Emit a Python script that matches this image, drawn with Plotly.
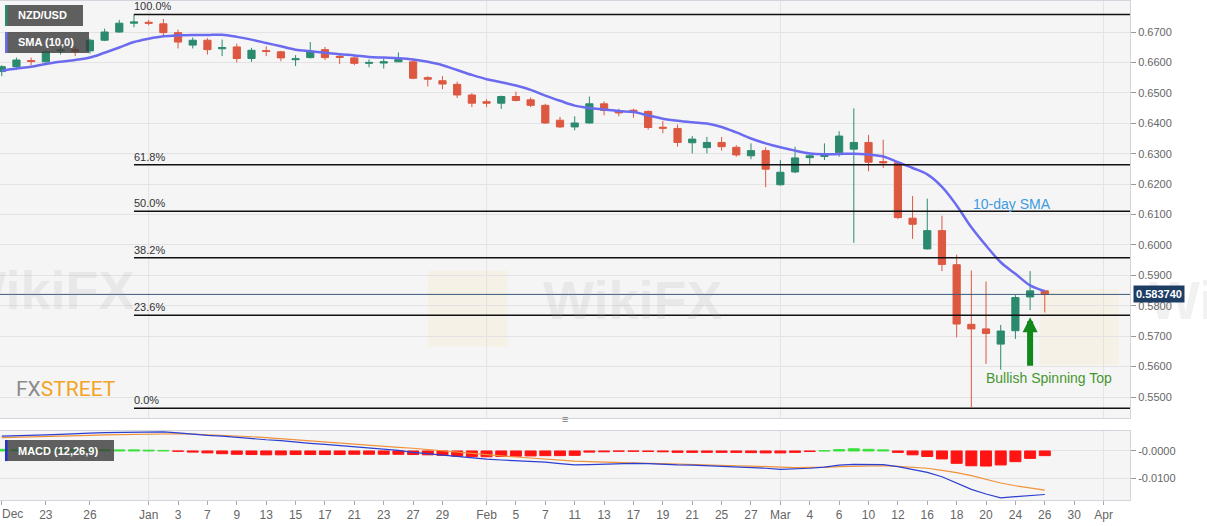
import pandas as pd
import plotly.graph_objects as go

# NZD/USD daily, 18 Dec 2019 - 26 Mar 2020 (weekdays only)
dates = pd.bdate_range("2019-12-18", "2020-03-26")
axis_days = pd.bdate_range("2019-12-18", "2020-04-03")

opens = [0.6570, 0.6586, 0.6606, 0.6602, 0.6638, 0.6642, 0.6638, 0.6673, 0.6700, 0.6729,
         0.6732, 0.6727, 0.6698, 0.6657, 0.6673, 0.6645, 0.6651, 0.6613, 0.6639, 0.6635,
         0.6609, 0.6616, 0.6642, 0.6620, 0.6615, 0.6597, 0.6598, 0.6602, 0.6602, 0.6550,
         0.6540, 0.6528, 0.6493,
         0.6471, 0.6466, 0.6488, 0.6477, 0.6459, 0.6410, 0.6388, 0.6401, 0.6464, 0.6442,
         0.6443, 0.6439, 0.6387, 0.6383, 0.6336, 0.6320, 0.6337, 0.6321, 0.6293, 0.6310,
         0.6198, 0.6240, 0.6287, 0.6291, 0.6303, 0.6315, 0.6337, 0.6274, 0.6270, 0.6088,
         0.5987, 0.6047, 0.5935, 0.5739, 0.5724, 0.5674, 0.5718, 0.5829, 0.5849]
highs = [0.6591, 0.6616, 0.6616, 0.6640, 0.6651, 0.6651, 0.6678, 0.6711, 0.6740, 0.6758,
         0.6740, 0.6743, 0.6708, 0.6682, 0.6680, 0.6675, 0.6662, 0.6648, 0.6653, 0.6638,
         0.6624, 0.6667, 0.6651, 0.6629, 0.6621, 0.6610, 0.6613, 0.6633, 0.6610, 0.6555,
         0.6555, 0.6537, 0.6499,
         0.6479, 0.6491, 0.6504, 0.6485, 0.6464, 0.6421, 0.6423, 0.6488, 0.6472, 0.6448,
         0.6448, 0.6442, 0.6408, 0.6396, 0.6358, 0.6355, 0.6355, 0.6328, 0.6334, 0.6321,
         0.6279, 0.6323, 0.6303, 0.6334, 0.6374, 0.6449, 0.6362, 0.6346, 0.6275, 0.6161,
         0.6152, 0.6096, 0.5968, 0.5916, 0.5880, 0.5737, 0.5835, 0.5914, 0.5851]
lows = [0.6555, 0.6575, 0.6591, 0.6599, 0.6626, 0.6621, 0.6629, 0.6670, 0.6698, 0.6716,
        0.6722, 0.6686, 0.6646, 0.6646, 0.6626, 0.6621, 0.6600, 0.6602, 0.6621, 0.6604,
        0.6588, 0.6613, 0.6608, 0.6595, 0.6591, 0.6584, 0.6580, 0.6601, 0.6545, 0.6521,
        0.6512, 0.6483, 0.6453,
        0.6453, 0.6447, 0.6472, 0.6453, 0.6398, 0.6385, 0.6377, 0.6399, 0.6426, 0.6423,
        0.6418, 0.6379, 0.6367, 0.6323, 0.6301, 0.6301, 0.6310, 0.6290, 0.6282, 0.6190,
        0.6195, 0.6236, 0.6263, 0.6279, 0.6290, 0.6007, 0.6242, 0.6253, 0.6085, 0.6020,
        0.5985, 0.5914, 0.5696, 0.5467, 0.5609, 0.5590, 0.5691, 0.5786, 0.5778]
closes = [0.6586, 0.6608, 0.6603, 0.6635, 0.6641, 0.6637, 0.6673, 0.6700, 0.6729, 0.6733,
          0.6729, 0.6698, 0.6667, 0.6673, 0.6642, 0.6649, 0.6613, 0.6640, 0.6636, 0.6615,
          0.6612, 0.6637, 0.6616, 0.6617, 0.6597, 0.6600, 0.6602, 0.6610, 0.6548, 0.6545,
          0.6529, 0.6493, 0.6466,
          0.6466, 0.6488, 0.6475, 0.6459, 0.6401, 0.6388, 0.6401, 0.6464, 0.6442, 0.6434,
          0.6440, 0.6386, 0.6384, 0.6337, 0.6348, 0.6337, 0.6323, 0.6296, 0.6310, 0.6249,
          0.6239, 0.6286, 0.6293, 0.6298, 0.6358, 0.6337, 0.6272, 0.6270, 0.6090, 0.6068,
          0.6047, 0.5936, 0.5740, 0.5724, 0.5709, 0.5717, 0.5827, 0.5849, 0.58374]
sma10 = [0.6573, 0.6580, 0.6586, 0.6595, 0.6602, 0.6608, 0.6616, 0.6632, 0.6649, 0.6667,
         0.6678, 0.6686, 0.6689, 0.6690, 0.6690, 0.6691, 0.6684, 0.6675, 0.6664, 0.6653,
         0.6642, 0.6637, 0.6632, 0.6627, 0.6623, 0.6618, 0.6616, 0.6614, 0.6610, 0.6602,
         0.6591, 0.6575, 0.6559,
         0.6545, 0.6535, 0.6524, 0.6510, 0.6491, 0.6474, 0.6458, 0.6450, 0.6445, 0.6440,
         0.6437, 0.6426, 0.6415, 0.6408, 0.6403, 0.6399, 0.6388, 0.6370, 0.6350, 0.6334,
         0.6321, 0.6310, 0.6301, 0.6298, 0.6299, 0.6300, 0.6297, 0.6291, 0.6272, 0.6253,
         0.6232, 0.6191, 0.6130, 0.6058, 0.5998, 0.5943, 0.5905, 0.5867, 0.5848]

macd = [0.0054, 0.0055, 0.0056, 0.0059, 0.0061, 0.0062, 0.0065, 0.0067, 0.0068, 0.0070,
        0.0071, 0.0070, 0.0066, 0.0061, 0.0057, 0.0054, 0.0049, 0.0045, 0.0041, 0.0038,
        0.0032, 0.0028, 0.0024, 0.0020, 0.0016, 0.0011, 0.0007, 0.0002, -0.0005, -0.0010,
        -0.0015, -0.0021, -0.0026,
        -0.0030, -0.0033, -0.0035, -0.0038, -0.0041, -0.0046, -0.0051, -0.0050, -0.0048, -0.0046,
        -0.0045, -0.0046, -0.0049, -0.0051, -0.0052, -0.0054, -0.0055, -0.0057, -0.0060, -0.0063,
        -0.0067, -0.0066, -0.0063, -0.0059, -0.0052, -0.0049, -0.0049, -0.0050, -0.0057, -0.0067,
        -0.0078, -0.0094, -0.0118, -0.0140, -0.0157, -0.0171, -0.0167, -0.0163, -0.0159]
signal = [0.0049, 0.0050, 0.0051, 0.0054, 0.0055, 0.0056, 0.0057, 0.0059, 0.0060, 0.0061,
          0.0062, 0.0063, 0.0063, 0.0062, 0.0060, 0.0057, 0.0055, 0.0052, 0.0049, 0.0045,
          0.0039, 0.0035, 0.0032, 0.0028, 0.0024, 0.0021, 0.0017, 0.0013, 0.0010, 0.0005,
          0.0000, -0.0005, -0.0010,
          -0.0015, -0.0018, -0.0022, -0.0026, -0.0029, -0.0033, -0.0037, -0.0039, -0.0041, -0.0043,
          -0.0044, -0.0045, -0.0046, -0.0048, -0.0049, -0.0051, -0.0052, -0.0054, -0.0055, -0.0057,
          -0.0060, -0.0061, -0.0060, -0.0060, -0.0057, -0.0056, -0.0055, -0.0054, -0.0056, -0.0060,
          -0.0063, -0.0071, -0.0079, -0.0090, -0.0104, -0.0117, -0.0127, -0.0134, -0.0143]
hist = [0.0006, 0.0006, 0.0006, 0.0006, 0.0005, 0.0005, 0.0005, 0.0005, 0.0004, 0.0004,
        0.0003, 0.0002, -0.0001, -0.0004, -0.0007, -0.0010, -0.0012, -0.0013, -0.0014, -0.0014,
        -0.0013, -0.0013, -0.0013, -0.0013, -0.0012, -0.0012, -0.0012, -0.0012, -0.0013, -0.0014,
        -0.0016, -0.0019, -0.0021,
        -0.0021, -0.0020, -0.0019, -0.0018, -0.0017, -0.0017, -0.0016, -0.0004, -0.0003, -0.0001,
        -0.0001, -0.0002, -0.0003, -0.0005, -0.0005, -0.0005, -0.0005, -0.0005, -0.0006, -0.0007,
        -0.0007, -0.0005, -0.0002, 0.0001, 0.0005, 0.0008, 0.0006, 0.0004, -0.0005, -0.0014,
        -0.0020, -0.0029, -0.0045, -0.0054, -0.0055, -0.0051, -0.0039, -0.0027, -0.0017]

fib_high = 0.6758
fib_low = 0.5463
fib_ratios = [1.0, 0.618, 0.5, 0.382, 0.236, 0.0]
fib_labels = ["100.0%", "61.8%", "50.0%", "38.2%", "23.6%", "0.0%"]
last_price = 0.583740

price_ticks = [0.55, 0.56, 0.57, 0.58, 0.59, 0.60, 0.61, 0.62, 0.63, 0.64, 0.65, 0.66, 0.67]
tick_dates = ["2019-12-18", "2019-12-23", "2019-12-26", "2020-01-01", "2020-01-03", "2020-01-07",
              "2020-01-09", "2020-01-13", "2020-01-15", "2020-01-17", "2020-01-21", "2020-01-23",
              "2020-01-27", "2020-01-29", "2020-02-03", "2020-02-05", "2020-02-07", "2020-02-11",
              "2020-02-13", "2020-02-17", "2020-02-19", "2020-02-21", "2020-02-25", "2020-02-27",
              "2020-03-02", "2020-03-04", "2020-03-06", "2020-03-10", "2020-03-12", "2020-03-16",
              "2020-03-18", "2020-03-20", "2020-03-24", "2020-03-26", "2020-03-30", "2020-04-01"]
# first tick ("Dec") sits on the left edge, its label is placed as an annotation
tick_text = ["", "23", "26", "Jan", "3", "7", "9", "13", "15", "17",
             "21", "23", "27", "29", "Feb", "5", "7", "11", "13", "17", "19", "21", "25", "27",
             "Mar", "4", "6", "10", "12", "16", "18", "20", "24", "26", "30", "Apr"]
first_label = "Dec"
month_starts = ["2020-01-01", "2020-02-03", "2020-03-02", "2020-04-01"]

GREEN = "#2B8A6E"
RED = "#DD5840"
GRID = "#E3E3E6"
FRAME = "#D4D4DC"

day_pos = {d.strftime("%Y-%m-%d"): i for i, d in enumerate(axis_days)}
pos = list(range(len(dates)))
x_lo, x_hi = -0.12, 76.8

fig = go.Figure()
fig.add_trace(go.Candlestick(
    x=pos, open=opens, high=highs, low=lows, close=closes,
    increasing=dict(line=dict(color=GREEN, width=1), fillcolor=GREEN),
    decreasing=dict(line=dict(color=RED, width=1), fillcolor=RED),
    whiskerwidth=0, xaxis="x", yaxis="y", hoverinfo="skip"))
fig.add_trace(go.Scatter(
    x=pos, y=sma10, mode="lines", line=dict(color="#6B6BF0", width=2.5, shape="spline"),
    xaxis="x", yaxis="y", hoverinfo="skip"))

hist_colors = ["#3BE03B" if v >= 0 else "#FF1414" for v in hist]
fig.add_trace(go.Bar(
    x=pos, y=hist, width=0.75, marker=dict(color=hist_colors, line=dict(color=hist_colors, width=1)),
    xaxis="x2", yaxis="y2", hoverinfo="skip"))
fig.add_trace(go.Scatter(x=pos, y=signal, mode="lines", line=dict(color="#F0923A", width=1.2),
                         xaxis="x2", yaxis="y2", hoverinfo="skip"))
fig.add_trace(go.Scatter(x=pos, y=macd, mode="lines", line=dict(color="#2B3FD0", width=1.2),
                         xaxis="x2", yaxis="y2", hoverinfo="skip"))

shapes = []
annotations = []

# month grid lines
for d in month_starts:
    for yr in ("y domain", "y2 domain"):
        shapes.append(dict(type="line", xref="x", yref=yr, x0=day_pos[d], x1=day_pos[d], y0=0, y1=1,
                           line=dict(color=GRID, width=1), layer="below"))

# faint watermarks
for cx, cy in [(0.414, 0.5790), (0.955, 0.5730)]:
    shapes.append(dict(type="rect", xref="paper", yref="y", x0=cx - 0.035, x1=cx + 0.035,
                       y0=cy - 0.0125, y1=cy + 0.0125, fillcolor="rgba(245,215,120,0.13)",
                       line=dict(width=0), layer="below"))
for tx, ty, anchor in [(0.04, 0.5852, "center"), (0.56, 0.5818, "center"), (1.015, 0.5818, "left")]:
    annotations.append(dict(xref="paper", yref="y", x=tx, y=ty, xanchor=anchor, text="<b>WikiFX</b>",
                            showarrow=False, font=dict(size=54, color="rgba(160,160,160,0.15)")))

# fibonacci levels
for r, lab in zip(fib_ratios, fib_labels):
    lvl = fib_low + r * (fib_high - fib_low)
    shapes.append(dict(type="line", xref="x", yref="y", x0=day_pos["2019-12-31"], x1=x_hi,
                       y0=lvl, y1=lvl, line=dict(color="#111111", width=1.5)))
    annotations.append(dict(xref="x", yref="y", x=day_pos["2019-12-31"], y=lvl, xanchor="left",
                            yanchor="bottom", text=lab, showarrow=False, xshift=-2,
                            font=dict(size=11, color="#333333")))

# last price line and tag
shapes.append(dict(type="line", xref="paper", yref="y", x0=0, x1=1, y0=last_price, y1=last_price,
                   line=dict(color="#3A5A7C", width=1)))
annotations.append(dict(xref="paper", yref="y", x=1, y=last_price, xanchor="left", xshift=3,
                        text="<b>%.6f</b>" % last_price, showarrow=False, bgcolor="#1E3D63",
                        borderpad=2, font=dict(size=11, color="white")))

# legend boxes
for y0, y1, yref, col, txt, w in [(1, 0.958, "paper", GREEN, "NZD/USD", 83),
                                  (0.946, 0.904, "paper", "#6B6BF0", "SMA (10,0)", 89),
                                  (0.128, 0.086, "paper", "#2233CC", "MACD (12,26,9)", 114)]:
    shapes.append(dict(type="rect", xref="paper", yref=yref, x0=5 / 1130, x1=w / 1130, y0=y0 - 0.008,
                       y1=y1 - 0.008, fillcolor="rgba(62,62,62,0.82)", line=dict(width=0)))
    shapes.append(dict(type="rect", xref="paper", yref=yref, x0=5 / 1130, x1=7.5 / 1130, y0=y0 - 0.008,
                       y1=y1 - 0.008, fillcolor=col, line=dict(width=0)))
    annotations.append(dict(xref="paper", yref=yref, x=16 / 1130, y=(y0 + y1) / 2 - 0.008,
                            xanchor="left", yanchor="middle", text="<b>%s</b>" % txt, showarrow=False,
                            font=dict(size=11, color="white")))

# panel handle
annotations.append(dict(xref="paper", yref="paper", x=0.5, y=0.147, text="\u2261", showarrow=False,
                        font=dict(size=11, color="#777777")))

# left-edge month label
annotations.append(dict(xref="paper", yref="paper", x=0, y=0, xanchor="left", yanchor="top",
                        yshift=-5, text=first_label, showarrow=False,
                        font=dict(size=12, color="#666666")))

# FXSTREET logo
annotations.append(dict(xref="paper", yref="y", x=14 / 1130, y=0.5526, xanchor="left",
                        text="<span style='color:#8C8C8C'>FX</span><span style='color:#F4A425'>STREET</span>",
                        showarrow=False, font=dict(family="Roboto", size=21)))

# commentary
annotations.append(dict(xref="x", yref="y", x=day_pos["2020-03-19"], y=0.6133, xanchor="left",
                        text="10-day SMA", showarrow=False, font=dict(size=14, color="#3D9BE0")))
annotations.append(dict(xref="x", yref="y", x=day_pos["2020-03-20"], y=0.5562, xanchor="left",
                        xshift=-2, text="Bullish Spinning Top", showarrow=False,
                        font=dict(size=14, color="#45972F")))
annotations.append(dict(xref="x", yref="y", axref="x", ayref="y", x=day_pos["2020-03-25"], y=0.5762,
                        ax=day_pos["2020-03-25"], ay=0.5598, text="", showarrow=True, arrowhead=2,
                        arrowwidth=6, arrowsize=0.5, arrowcolor="#12881A"))

fig.update_layout(
    width=1207, height=526,
    margin=dict(l=0, r=77, t=1, b=26, autoexpand=False),
    paper_bgcolor="white", plot_bgcolor="#F5F5F6",
    showlegend=False,
    font=dict(family="Liberation Sans, Arial", size=12, color="#666666"),
    bargap=0.25,
    xaxis=dict(domain=[0, 1], range=[x_lo, x_hi], anchor="y", showticklabels=False, showgrid=False,
               zeroline=False, showline=True, mirror=True, linecolor=FRAME, automargin=False,
               rangeslider=dict(visible=False), ticks=""),
    yaxis=dict(domain=[0.1643, 1], range=[0.5431, 0.6802], side="right", tickvals=price_ticks,
               tickformat=".4f", gridcolor=GRID, zeroline=False, ticks="outside", ticklen=5,
               tickcolor="#999999", showline=True, mirror=True, linecolor=FRAME, automargin=False,
               tickfont=dict(size=11, color="#666666")),
    xaxis2=dict(domain=[0, 1], range=[x_lo, x_hi], anchor="y2", matches="x",
                tickvals=[day_pos[d] for d in tick_dates], ticktext=tick_text, tickangle=0,
                automargin=False,
                ticks="outside", ticklen=4, tickcolor="#AAAAAA", showgrid=False, zeroline=False,
                showline=True, mirror=True, linecolor=FRAME, tickfont=dict(size=12, color="#666666")),
    yaxis2=dict(domain=[0, 0.1383], range=[-0.0179, 0.0073], side="right", tickvals=[0, -0.01],
                ticktext=["-0.0000", "-0.0100"], gridcolor=GRID, zeroline=False, ticks="outside",
                ticklen=5, tickcolor="#999999", showline=True, mirror=True, linecolor=FRAME,
                automargin=False, tickfont=dict(size=11, color="#666666")),
    shapes=shapes,
    annotations=annotations,
)

fig.write_html("out.html", config={"displayModeBar": False},
               post_script="document.body.style.margin = '0';")
